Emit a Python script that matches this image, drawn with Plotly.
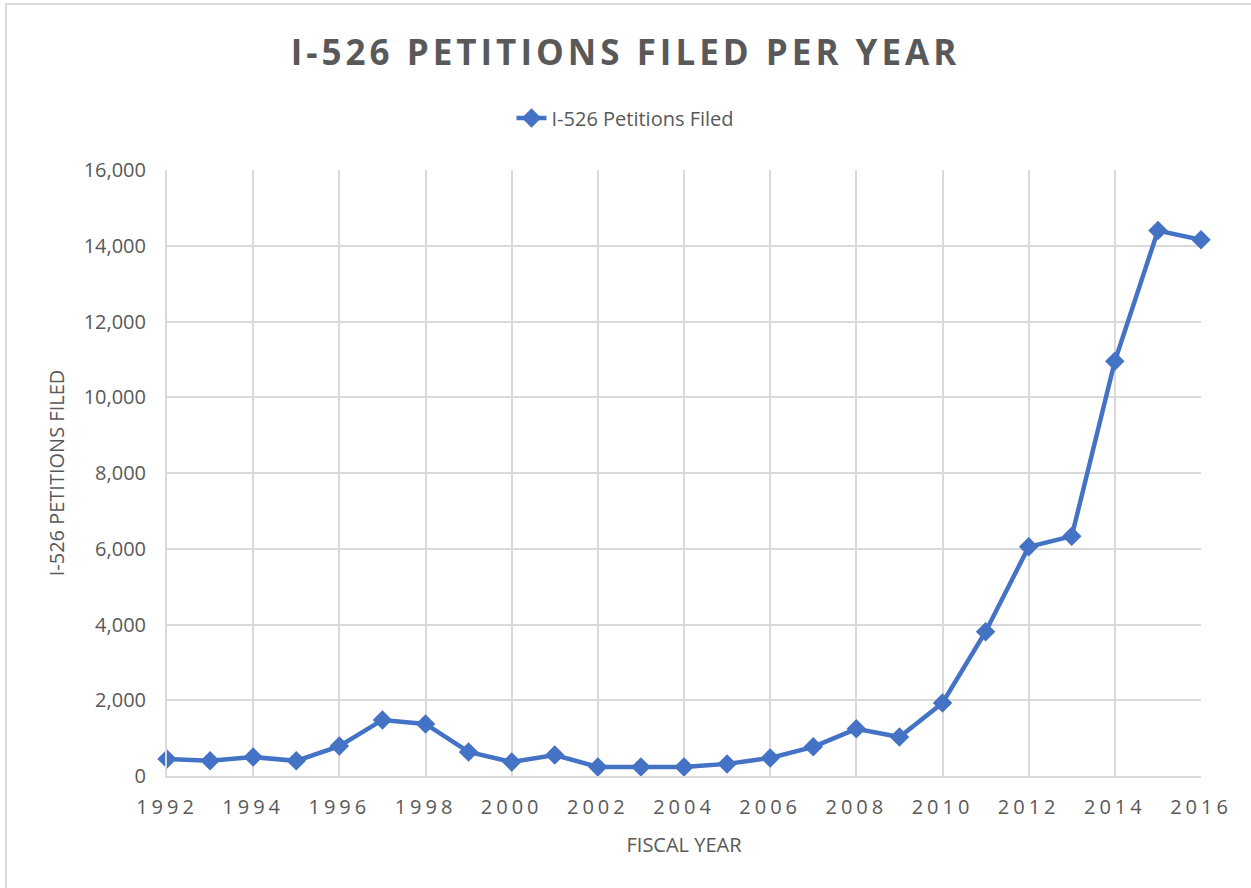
import plotly.graph_objects as go

years = list(range(1992, 2017))
petitions = [450, 400, 500, 400, 790, 1480, 1375, 635, 370, 555, 240, 240, 240,
             320, 475, 770, 1245, 1030, 1930, 3810, 6050, 6330, 10950, 14400, 14160]

series_name = "I-526 Petitions Filed"
title_text = "I-526 PETITIONS FILED PER YEAR"
x_title = "FISCAL YEAR"
y_title = "I-526 PETITIONS FILED"

grey = "#595959"
blue = "#4472C4"
grid = "#d9d9d9"

fig = go.Figure()
fig.add_trace(go.Scatter(
    x=years, y=petitions, mode="lines+markers", name=series_name,
    line=dict(color=blue, width=4.5),
    marker=dict(symbol="diamond", size=15, color=blue),
    cliponaxis=False,
))

fig.update_layout(
    width=1251, height=888,
    margin=dict(l=167, r=50, t=170, b=112, autoexpand=False),
    paper_bgcolor="white", plot_bgcolor="white",
    font=dict(family="Open Sans", color=grey),
    title=dict(text=f"<b>{title_text}</b>", x=0.5, xref="container", xanchor="center",
               y=1 - 53 / 888, yref="container", yanchor="middle",
               font=dict(size=35, color=grey, family="Open Sans")),
    showlegend=True,
    legend=dict(orientation="h", x=0.5, xref="container", xanchor="center",
                y=1 - 118 / 888, yref="container", yanchor="middle",
                font=dict(size=20, color=grey)),
    xaxis=dict(range=[1992, 2016], tickmode="array",
               tickvals=list(range(1992, 2017, 2)),
               ticktext=[str(y) for y in range(1992, 2017, 2)],
               showgrid=True, gridcolor=grid, gridwidth=2,
               showline=True, linecolor=grid, linewidth=2,
               zeroline=False, ticks="", ticklabelstandoff=12,
               tickfont=dict(size=20, color=grey),
               title=dict(text=x_title, font=dict(size=20, color=grey), standoff=19)),
    yaxis=dict(range=[0, 16000], dtick=2000, tickformat=",d",
               showgrid=True, gridcolor=grid, gridwidth=2,
               showline=True, linecolor=grid, linewidth=2,
               zeroline=False, ticks="", ticklabelstandoff=15,
               tickfont=dict(size=20, color=grey),
               title=dict(text=y_title, font=dict(size=20, color=grey), standoff=14)),
    shapes=[dict(type="rect", xref="paper", yref="paper",
                 x0=(6 - 167) / 1034, x1=(1260 - 167) / 1034,
                 y0=(776 - 900) / 606, y1=(776 - 4) / 606,
                 line=dict(color=grid, width=2), fillcolor="rgba(0,0,0,0)",
                 layer="below")],
)

post_script = """
document.body.style.margin = '0';
var gd = document.getElementById('{plot_id}');
function fixSpacing(){
  gd.querySelectorAll('.xtick text').forEach(function(t){ t.style.letterSpacing = '4px'; });
  gd.querySelectorAll('.gtitle').forEach(function(t){ t.style.letterSpacing = '4px'; });
}
fixSpacing();
gd.on('plotly_afterplot', fixSpacing);
"""

fig.write_html("out.html", post_script=post_script, config={"displayModeBar": False})
